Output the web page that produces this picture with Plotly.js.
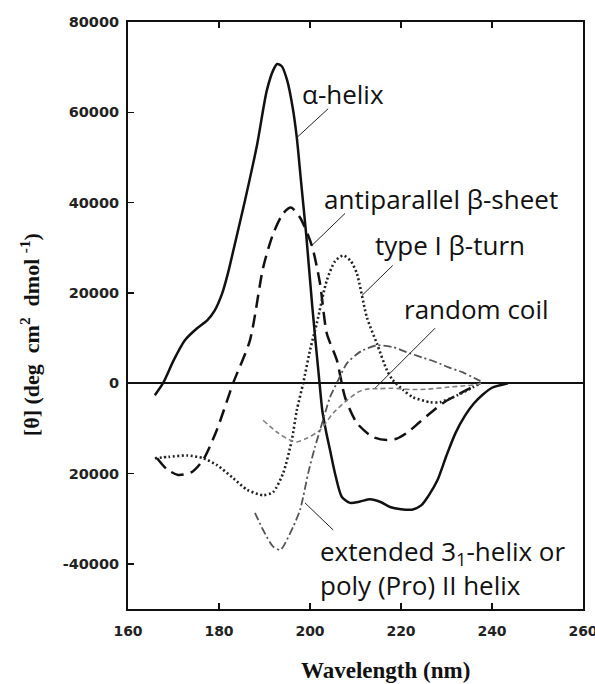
<!DOCTYPE html>
<html>
<head>
<meta charset="utf-8">
<script src="https://cdn.plot.ly/plotly-3.0.1.min.js"></script>
<style>html,body{margin:0;padding:0;background:#fff;}#chart{width:595px;height:684px;}</style>
</head>
<body>
<div id="chart"></div>
<script>
// ---- data ----
const helixX = [165.9,167.7,170,172.5,175,177.4,179,180.7,182,183.5,185.7,188.4,190.5,192,192.8,193.8,195,196.2,197.1,198,199.2,200.5,202.1,202.7,203.5,204.4,205.5,207,208.8,211,213.2,215.5,217.6,220,222.4,224.5,226,228,230,232,234,236,238,240,243.5];
const helixY = [-2650,0,5000,9500,12000,13900,16000,19900,24500,30900,40400,53000,64800,69500,70700,70200,67000,61000,54400,45000,32500,17000,0,-6000,-10500,-14800,-20000,-25200,-26500,-26200,-25700,-26300,-27400,-27900,-28000,-27000,-25000,-21500,-16000,-11000,-7300,-4500,-2500,-1000,0];

const sheetX = [166.4,168.5,171,174,176.5,179.5,183.1,186.8,189.7,191.9,194.1,195.8,197.8,200.4,202.2,203.7,205.9,207.7,210.3,213.8,216.9,219,221.3,224,226.8,229.5,232.5,235,237.4];
const sheetY = [-16600,-19000,-20300,-19700,-17000,-10400,0,9500,25600,33100,37600,38900,36700,30500,22100,11000,5100,-3100,-8800,-11900,-12600,-12300,-11000,-8700,-6300,-4200,-2500,-1200,0];

const turnX = [165.9,169,173,176.5,179.5,183.1,186.2,189.7,191.9,194.1,196,197.1,198.5,200,201.5,203.7,205.5,207.3,209,210.3,212.5,214.7,216.9,218.2,220.5,222.6,226.4,228.6,232.3,235.8,237.4];
const turnY = [-16600,-16300,-16000,-16600,-18100,-21000,-23600,-24800,-24100,-19900,-12600,-6000,0,7300,13300,22800,27000,28300,27000,24300,14600,8800,2900,700,-1500,-3100,-4200,-4200,-2700,-900,0];

const coilX = [189.7,192.7,195.6,197.1,199.3,202.2,205.1,208.1,210.5,212.5,215.4,217.6,222.6,226,230.1,233.5,236.7,237.6];
const coilY = [-8200,-10800,-12600,-13000,-12200,-10400,-6600,-3800,-2000,-1300,-1200,-1100,-1400,-1300,-900,-600,-300,0];

const extX = [187.9,189.7,191.9,193.4,194.1,196.3,197.8,198.5,199.6,201.1,202.2,203.7,204.4,206.2,208.1,210,211.6,214.7,218.2,222,225,227.9,230.5,233.6,236,238];
const extY = [-28700,-32500,-36200,-36900,-36200,-31800,-28100,-25200,-19900,-14100,-10400,-5300,-3100,700,4400,6200,7300,8400,8000,6600,5600,4600,3500,2400,1200,200];

const yTickVals = [-40000,-20000,0,20000,40000,60000,80000];
const yTickText = ["-40000","20000","0","20000","40000","60000","80000"];
const xTickVals = [160,180,200,220,240,260];

const labels = ["α-helix","antiparallel β-sheet","type I β-turn","random coil","extended 3<sub>1</sub>-helix or<br>poly (Pro) II helix"];

// ---- traces ----
const common = {type:'scatter', mode:'lines', hoverinfo:'skip', showlegend:false};
const traces = [
  Object.assign({}, common, {x:helixX, y:helixY, line:{color:'#111', width:2.5, shape:'spline', smoothing:0.7}}),
  Object.assign({}, common, {x:sheetX, y:sheetY, line:{color:'#111', width:2.5, dash:'13px,7px', shape:'spline', smoothing:0.7}}),
  Object.assign({}, common, {x:turnX, y:turnY, line:{color:'#222', width:2.6, dash:'2px,2.5px', shape:'spline', smoothing:0.7}}),
  Object.assign({}, common, {x:coilX, y:coilY, line:{color:'#808080', width:1.6, dash:'5px,3px', shape:'spline', smoothing:0.7}}),
  Object.assign({}, common, {x:extX, y:extY, line:{color:'#555', width:1.8, dash:'8px,3px,2px,3px', shape:'spline', smoothing:0.7}})
];

const annFont = {family:'"Open Sans", sans-serif', size:26, color:'#111'};
function ann(text, x, y){ return {text:text, x:x, y:y, xref:'x', yref:'y', xanchor:'left', yanchor:'middle', align:'left', showarrow:false, font:annFont}; }

const leaders = [
  [197.1,54400,204.0,60800],
  [200.4,30500,207.7,37600],
  [211.4,19400,218.2,26100],
  [214.3,-1100,227.5,12200],
  [198.9,-26500,205.1,-32500]
];

const layout = {
  width:595, height:684,
  margin:{l:128, r:12, t:22, b:75},
  paper_bgcolor:'#fff', plot_bgcolor:'#fff',
  xaxis:{range:[160,260], tickvals:xTickVals, ticks:'inside', ticklen:6, tickwidth:1.5, tickcolor:'#111',
         showline:true, linewidth:2, linecolor:'#111', mirror:'ticks', showgrid:false, zeroline:false,
         ticklabelstandoff:8, ticklabeloverflow:'allow',
         tickfont:{family:'"DejaVu Sans", sans-serif', size:14, color:'#222', weight:'bold'}},
  yaxis:{range:[-50000,80000], tickvals:yTickVals, ticktext:yTickText, ticks:'inside', ticklen:6, tickwidth:1.5, tickcolor:'#111',
         showline:true, linewidth:2, linecolor:'#111', mirror:true, showgrid:false,
         zeroline:true, zerolinecolor:'#111', zerolinewidth:1.8,
         ticklabelstandoff:4, ticklabeloverflow:'allow',
         tickfont:{family:'"DejaVu Sans", sans-serif', size:14.5, color:'#222', weight:'bold'}},
  shapes: leaders.map(l => ({type:'line', xref:'x', yref:'y', x0:l[0], y0:l[1], x1:l[2], y1:l[3], line:{color:'#222', width:1}})),
  annotations:[
    ann(labels[0],197.8,64100),
    ann(labels[1],202.6,40700),
    ann(labels[2],213.8,30700),
    ann(labels[3],220.2,16400),
    ann(labels[4],201.8,-41000),
    {text:'[θ] (deg  cm<sup>2</sup>  dmol <sup>-1</sup>)', xref:'paper', yref:'paper', x:-0.215, y:0.4668, xanchor:'center', yanchor:'middle',
     textangle:-90, showarrow:false, font:{family:'"Liberation Serif", serif', size:22, color:'#111', weight:'bold'}},
    {text:'Wavelength (nm)', xref:'paper', yref:'paper', x:0.565, y:-0.1056, xanchor:'center', yanchor:'middle',
     showarrow:false, font:{family:'"Liberation Serif", serif', size:23, color:'#111', weight:'bold'}}
  ]
};

Plotly.newPlot('chart', traces, layout, {staticPlot:true, displayModeBar:false});
</script>
</body>
</html>
